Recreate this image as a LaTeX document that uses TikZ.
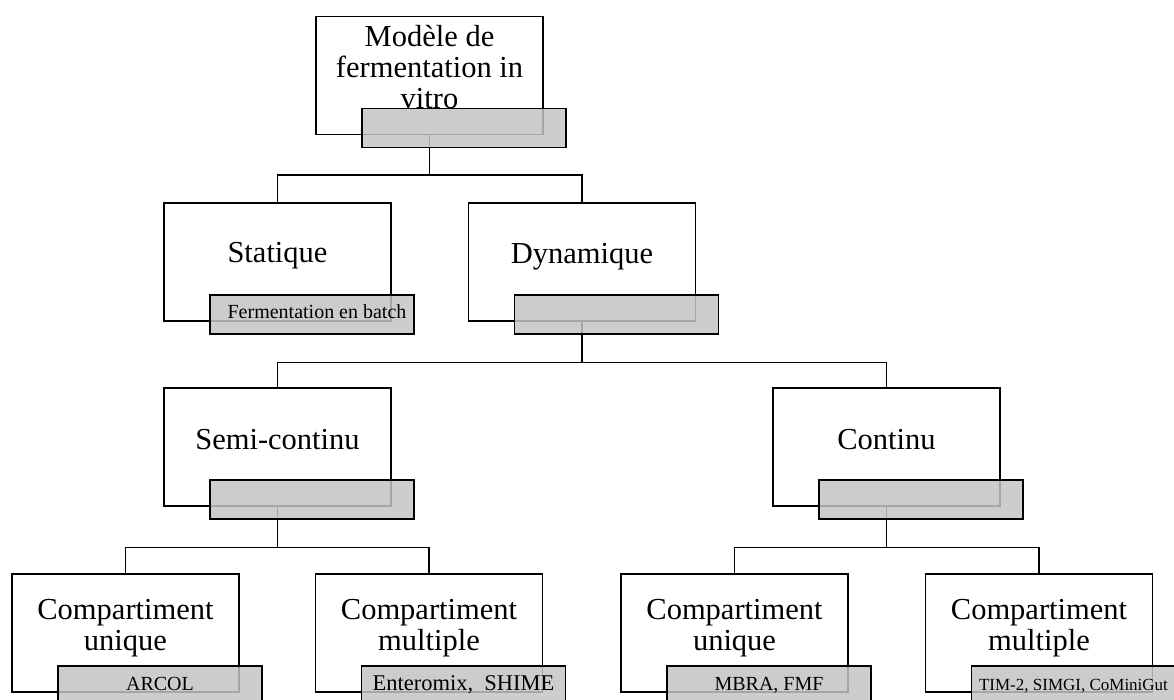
\documentclass[tikz,border=0pt]{standalone}
\usepackage{fontspec}
\setmainfont{Liberation Serif}
\usetikzlibrary{positioning,backgrounds}

\definecolor{tagfill}{RGB}{196,196,196}
\tikzset{
  modbox/.style = {draw, fill=white, line width=1.2pt, minimum width=227pt, minimum height=118pt, inner sep=0pt},
  boxtext/.style = {font=\fontsize{30.5}{31}\selectfont, anchor=base, inner sep=0pt},
  tagbox/.style = {draw, line width=1.2pt, fill=tagfill, fill opacity=0.85, text opacity=1,
    minimum width=204pt, minimum height=39pt, inner sep=0pt, text height=14pt, text depth=5pt,
    font=\fontsize{20}{24}\selectfont},
  branch/.style = {line width=1.2pt},
}
\newcommand{\twolines}[2]{\begin{tabular}[t]{@{}c@{}}#1\\#2\end{tabular}}

\begin{document}
\begin{tikzpicture}[x=1pt, y=-1pt]
        \useasboundingbox (0,0) rectangle (1174,700) ; %
        % white boxes
        \node[modbox] (root) at (429.5,75.5) {} ; %
        \node[modbox] (stat) at (277.5,262) {} ; %
        \node[modbox] (dyn) at (582,262) {} ; %
        \node[modbox] (semi) at (277.5,447) {} ; %
        \node[modbox] (cont) at (886.5,447) {} ; %
        \node[modbox] (cu_1) at (125.5,633) {} ; %
        \node[modbox] (cm_1) at (429,633) {} ; %
        \node[modbox] (cu_2) at (734.5,633) {} ; %
        \node[modbox] (cm_2) at (1039,633) {} ; %
        %
        \node[boxtext] (root_t) at ([yshift=28.5pt]root.center) {\begin{tabular}[t]{@{}c@{}}Modèle de\\fermentation in\\vitro\end{tabular}} ; %
        \node[boxtext] (stat_t) at ([yshift=-1pt]stat.center) {Statique} ; %
        \node[boxtext] (dyn_t) at ([yshift=-2pt]dyn.center) {Dynamique} ; %
        \node[boxtext] (semi_t) at ([yshift=-2pt]semi.center) {Semi-continu} ; %
        \node[boxtext] (cont_t) at ([yshift=-2pt]cont.center) {Continu} ; %
        \node[boxtext] (cu_1_t) at ([yshift=14pt]cu_1.center) {\twolines{Compartiment}{unique}} ; %
        \node[boxtext] (cm_1_t) at ([yshift=14pt]cm_1.center) {\twolines{Compartiment}{multiple}} ; %
        \node[boxtext] (cu_2_t) at ([yshift=14pt]cu_2.center) {\twolines{Compartiment}{unique}} ; %
        \node[boxtext] (cm_2_t) at ([yshift=14pt]cm_2.center) {\twolines{Compartiment}{multiple}} ; %
        % grey tags
        \node[tagbox] (root_g) at ([shift={(34.5,52.5)}]root.center) {} ; %
        \node[tagbox] (stat_g) at ([shift={(34.5,52.5)}]stat.center) {\hspace{10pt}Fermentation en batch} ; %
        \node[tagbox] (dyn_g) at ([shift={(34.5,52.5)}]dyn.center) {} ; %
        \node[tagbox] (semi_g) at ([shift={(34.5,52.5)}]semi.center) {} ; %
        \node[tagbox] (cont_g) at ([shift={(34.5,52.5)}]cont.center) {} ; %
        \node[tagbox] (cu_1_g) at ([shift={(34.5,52.5)}]cu_1.center) {ARCOL} ; %
        \node[tagbox, font=\fontsize{22.5}{24}\selectfont] (cm_1_g) at ([shift={(34.5,52.5)}]cm_1.center) {Enteromix,\ \ SHIME} ; %
        \node[tagbox] (cu_2_g) at ([shift={(34.5,52.5)}]cu_2.center) {MBRA, FMF} ; %
        \node[tagbox, font=\fontsize{17}{20}\selectfont] (cm_2_g) at ([shift={(34.5,52.5)}]cm_2.center) {TIM-2, SIMGI, CoMiniGut} ; %
        %
        \begin{scope}[on background layer]
        \draw[branch] (root.south) -- ++(0,40) -| (stat.north) ; %
        \draw[branch] (root.south) -- ++(0,40) -| (dyn.north) ; %
        \draw[branch] (dyn.south) -- ++(0,41) -| (semi.north) ; %
        \draw[branch] (dyn.south) -- ++(0,41) -| (cont.north) ; %
        \draw[branch] (semi.south) -- ++(0,41) -| (cu_1.north) ; %
        \draw[branch] (semi.south) -- ++(0,41) -| (cm_1.north) ; %
        \draw[branch] (cont.south) -- ++(0,41) -| (cu_2.north) ; %
        \draw[branch] (cont.south) -- ++(0,41) -| (cm_2.north) ; %
        \end{scope}
\end{tikzpicture}
\end{document}
